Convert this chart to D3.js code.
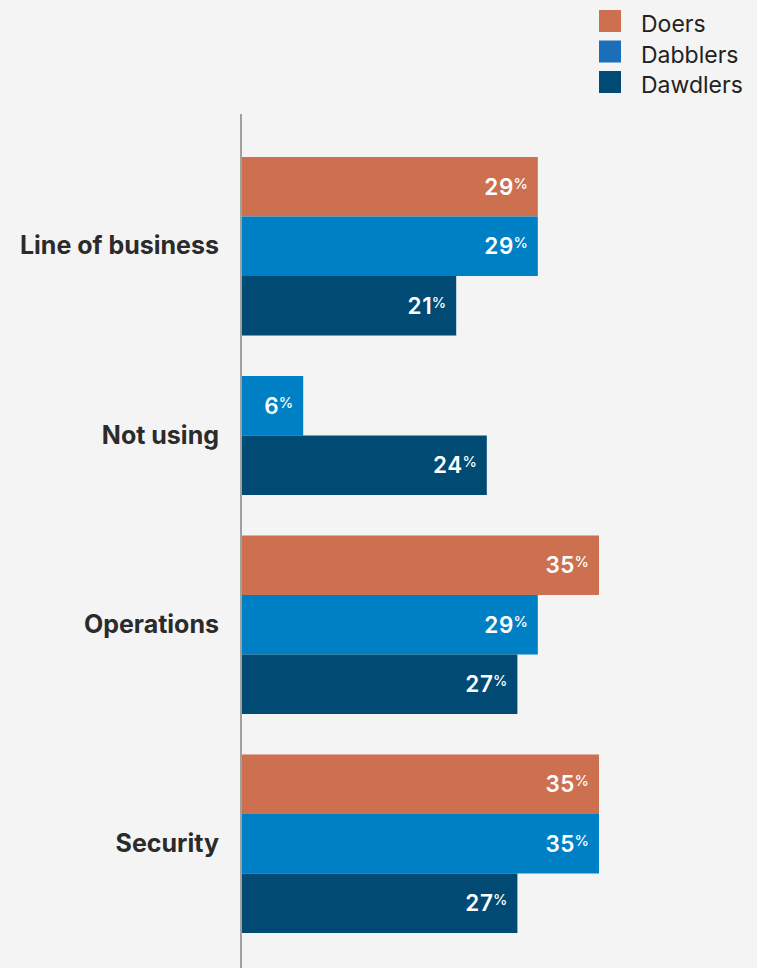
<!DOCTYPE html>
<html>
  <head>
    <meta charset="utf-8">
    <title>Doers, dabblers and dawdlers</title>
    <script src="https://d3js.org/d3.v7.min.js"></script>
    <style>
      body { margin: 0; background: #f4f4f4; font-family: "Inter", "Lato", sans-serif; }
      svg { display: block; }
      .cat { font-weight: 700; font-size: 25px; fill: #2b2b2b; }
      .val { font-weight: 600; font-size: 22.5px; fill: #fff; letter-spacing: 0.6px; }
      .legend text { font-size: 23px; fill: #222; }
    </style>
  </head>
  <body>
    <svg id="chart" width="757" height="968"></svg>
    <script>
      // data
      var categories = ["Line of business", "Not using", "Operations", "Security"];
      var series = ["Doers", "Dabblers", "Dawdlers"];
      var doers = [29, null, 35, 35];
      var dabblers = [29, 6, 29, 35];
      var dawdlers = [21, 24, 27, 27];
      var barColours = ["#cd7050", "#0080c4", "#004a74"];
      var legendColours = ["#cd7050", "#1b6fba", "#004a74"];

      var values = [doers, dabblers, dawdlers];
      var svg = d3.select("#chart");

      // flatten into rows, skipping missing bars, with a gap unit between groups
      var gapUnits = 0.68;
      var rows = [], pos = 0, groups = [];
      categories.forEach(function(c, i) {
        if (i > 0) pos += gapUnits;
        var start = pos;
        series.forEach(function(s, j) {
          var v = values[j][i];
          if (v == null) return;
          rows.push({ cat: c, series: s, idx: j, value: v, pos: pos });
          pos += 1;
        });
        groups.push({ cat: c, start: start, end: pos });
      });

      var y = d3.scaleLinear().domain([0, pos]).range([157, 933]);
      var x = d3.scaleLinear().domain([0, 35]).range([242, 599]);

      // bars
      svg.append("g").selectAll("rect")
        .data(rows)
        .enter().append("rect")
          .attr("x", x(0))
          .attr("y", function(d) { return y(d.pos); })
          .attr("width", function(d) { return x(d.value) - x(0); })
          .attr("height", function(d) { return y(d.pos + 1) - y(d.pos); })
          .attr("fill", function(d) { return barColours[d.idx]; });

      // value labels
      var labels = svg.append("g").selectAll("text")
        .data(rows)
        .enter().append("text")
          .attr("class", "val")
          .attr("text-anchor", "end")
          .attr("x", function(d) { return x(d.value) - 10; })
          .attr("y", function(d) { return (y(d.pos) + y(d.pos + 1)) / 2 + 8; });
      labels.append("tspan").text(function(d) { return d.value; });
      labels.append("tspan")
        .attr("font-size", 14.5)
        .attr("font-weight", 500)
        .attr("letter-spacing", 0)
        .attr("dx", -0.5)
        .attr("dy", -6)
        .text("%");

      // axis line
      svg.append("line")
        .attr("x1", 241).attr("x2", 241)
        .attr("y1", 114).attr("y2", 968)
        .attr("stroke", "#a0a0a0")
        .attr("stroke-width", 2);

      // category labels
      svg.append("g").selectAll("text")
        .data(groups)
        .enter().append("text")
          .attr("class", "cat")
          .attr("text-anchor", "end")
          .attr("x", 219)
          .attr("y", function(d) { return (y(d.start) + y(d.end)) / 2 + 8; })
          .text(function(d) { return d.cat; });

      // legend
      var legend = svg.append("g").attr("class", "legend");
      var item = legend.selectAll("g")
        .data(series)
        .enter().append("g")
          .attr("transform", function(d, i) { return "translate(599," + (10 + i * 30.5) + ")"; });
      item.append("rect")
        .attr("width", 22).attr("height", 22)
        .attr("fill", function(d, i) { return legendColours[i]; });
      item.append("text")
        .attr("x", 42).attr("y", 22)
        .text(function(d) { return d; });
    </script>
  </body>
</html>
